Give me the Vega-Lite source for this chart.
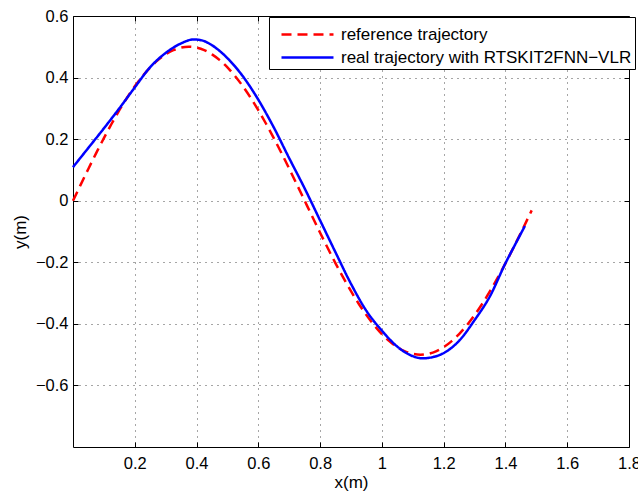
{
  "$schema": "https://vega.github.io/schema/vega-lite/v6.json",
  "width": 556,
  "height": 431,
  "autosize": {"type": "none"},
  "padding": {"left": 73, "top": 16, "right": 9, "bottom": 46},
  "background": "white",
  "config": {
    "font": "Liberation Sans",
    "view": {"stroke": "black", "strokeWidth": 1},
    "axis": {
      "labelFont": "Liberation Sans",
      "labelFontSize": 16.5,
      "labelColor": "black",
      "titleFont": "Liberation Sans",
      "titleFontSize": 17,
      "titleFontWeight": "normal",
      "titleColor": "black",
      "domain": false,
      "tickColor": "black",
      "tickSize": -5,
      "tickWidth": 1,
      "gridColor": "black",
      "gridDash": [1, 5],
      "gridOpacity": 0.7,
      "gridWidth": 1
    }
  },
  "data": {
    "values": [
      {"series": "reference trajectory", "x": 0, "y": 0},
      {"series": "reference trajectory", "x": 0.025, "y": 0.0523},
      {"series": "reference trajectory", "x": 0.05, "y": 0.104},
      {"series": "reference trajectory", "x": 0.075, "y": 0.1545},
      {"series": "reference trajectory", "x": 0.1, "y": 0.2034},
      {"series": "reference trajectory", "x": 0.125, "y": 0.25},
      {"series": "reference trajectory", "x": 0.15, "y": 0.2939},
      {"series": "reference trajectory", "x": 0.175, "y": 0.3346},
      {"series": "reference trajectory", "x": 0.2, "y": 0.3716},
      {"series": "reference trajectory", "x": 0.225, "y": 0.4045},
      {"series": "reference trajectory", "x": 0.25, "y": 0.433},
      {"series": "reference trajectory", "x": 0.275, "y": 0.4568},
      {"series": "reference trajectory", "x": 0.3, "y": 0.4755},
      {"series": "reference trajectory", "x": 0.325, "y": 0.4891},
      {"series": "reference trajectory", "x": 0.35, "y": 0.4973},
      {"series": "reference trajectory", "x": 0.375, "y": 0.5},
      {"series": "reference trajectory", "x": 0.4, "y": 0.4973},
      {"series": "reference trajectory", "x": 0.425, "y": 0.4891},
      {"series": "reference trajectory", "x": 0.45, "y": 0.4755},
      {"series": "reference trajectory", "x": 0.475, "y": 0.4568},
      {"series": "reference trajectory", "x": 0.5, "y": 0.433},
      {"series": "reference trajectory", "x": 0.525, "y": 0.4045},
      {"series": "reference trajectory", "x": 0.55, "y": 0.3716},
      {"series": "reference trajectory", "x": 0.575, "y": 0.3346},
      {"series": "reference trajectory", "x": 0.6, "y": 0.2939},
      {"series": "reference trajectory", "x": 0.625, "y": 0.25},
      {"series": "reference trajectory", "x": 0.65, "y": 0.2034},
      {"series": "reference trajectory", "x": 0.675, "y": 0.1545},
      {"series": "reference trajectory", "x": 0.7, "y": 0.104},
      {"series": "reference trajectory", "x": 0.725, "y": 0.0523},
      {"series": "reference trajectory", "x": 0.75, "y": 0},
      {"series": "reference trajectory", "x": 0.775, "y": -0.0523},
      {"series": "reference trajectory", "x": 0.8, "y": -0.104},
      {"series": "reference trajectory", "x": 0.825, "y": -0.1545},
      {"series": "reference trajectory", "x": 0.85, "y": -0.2034},
      {"series": "reference trajectory", "x": 0.875, "y": -0.25},
      {"series": "reference trajectory", "x": 0.9, "y": -0.2939},
      {"series": "reference trajectory", "x": 0.925, "y": -0.3346},
      {"series": "reference trajectory", "x": 0.95, "y": -0.3716},
      {"series": "reference trajectory", "x": 0.975, "y": -0.4045},
      {"series": "reference trajectory", "x": 1.0, "y": -0.433},
      {"series": "reference trajectory", "x": 1.025, "y": -0.4568},
      {"series": "reference trajectory", "x": 1.05, "y": -0.4755},
      {"series": "reference trajectory", "x": 1.075, "y": -0.4891},
      {"series": "reference trajectory", "x": 1.1, "y": -0.4973},
      {"series": "reference trajectory", "x": 1.125, "y": -0.5},
      {"series": "reference trajectory", "x": 1.15, "y": -0.4973},
      {"series": "reference trajectory", "x": 1.175, "y": -0.4891},
      {"series": "reference trajectory", "x": 1.2, "y": -0.4755},
      {"series": "reference trajectory", "x": 1.225, "y": -0.4568},
      {"series": "reference trajectory", "x": 1.25, "y": -0.433},
      {"series": "reference trajectory", "x": 1.275, "y": -0.4045},
      {"series": "reference trajectory", "x": 1.3, "y": -0.3716},
      {"series": "reference trajectory", "x": 1.325, "y": -0.3346},
      {"series": "reference trajectory", "x": 1.35, "y": -0.2939},
      {"series": "reference trajectory", "x": 1.375, "y": -0.25},
      {"series": "reference trajectory", "x": 1.4, "y": -0.2034},
      {"series": "reference trajectory", "x": 1.425, "y": -0.1545},
      {"series": "reference trajectory", "x": 1.45, "y": -0.104},
      {"series": "reference trajectory", "x": 1.475, "y": -0.0523},
      {"series": "reference trajectory", "x": 1.485, "y": -0.0314},
      {"series": "real trajectory with RTSKIT2FNN−VLR", "x": 0, "y": 0.109},
      {"series": "real trajectory with RTSKIT2FNN−VLR", "x": 0.05, "y": 0.172},
      {"series": "real trajectory with RTSKIT2FNN−VLR", "x": 0.1, "y": 0.235},
      {"series": "real trajectory with RTSKIT2FNN−VLR", "x": 0.15, "y": 0.3},
      {"series": "real trajectory with RTSKIT2FNN−VLR", "x": 0.2, "y": 0.368},
      {"series": "real trajectory with RTSKIT2FNN−VLR", "x": 0.25, "y": 0.434},
      {"series": "real trajectory with RTSKIT2FNN−VLR", "x": 0.3, "y": 0.48},
      {"series": "real trajectory with RTSKIT2FNN−VLR", "x": 0.35, "y": 0.511},
      {"series": "real trajectory with RTSKIT2FNN−VLR", "x": 0.39, "y": 0.524},
      {"series": "real trajectory with RTSKIT2FNN−VLR", "x": 0.42, "y": 0.52},
      {"series": "real trajectory with RTSKIT2FNN−VLR", "x": 0.45, "y": 0.505},
      {"series": "real trajectory with RTSKIT2FNN−VLR", "x": 0.48, "y": 0.482},
      {"series": "real trajectory with RTSKIT2FNN−VLR", "x": 0.5, "y": 0.463},
      {"series": "real trajectory with RTSKIT2FNN−VLR", "x": 0.55, "y": 0.404},
      {"series": "real trajectory with RTSKIT2FNN−VLR", "x": 0.6, "y": 0.328},
      {"series": "real trajectory with RTSKIT2FNN−VLR", "x": 0.65, "y": 0.238},
      {"series": "real trajectory with RTSKIT2FNN−VLR", "x": 0.7, "y": 0.138},
      {"series": "real trajectory with RTSKIT2FNN−VLR", "x": 0.75, "y": 0.04},
      {"series": "real trajectory with RTSKIT2FNN−VLR", "x": 0.8, "y": -0.064},
      {"series": "real trajectory with RTSKIT2FNN−VLR", "x": 0.85, "y": -0.168},
      {"series": "real trajectory with RTSKIT2FNN−VLR", "x": 0.9, "y": -0.27},
      {"series": "real trajectory with RTSKIT2FNN−VLR", "x": 0.95, "y": -0.358},
      {"series": "real trajectory with RTSKIT2FNN−VLR", "x": 1.0, "y": -0.422},
      {"series": "real trajectory with RTSKIT2FNN−VLR", "x": 1.05, "y": -0.474},
      {"series": "real trajectory with RTSKIT2FNN−VLR", "x": 1.1, "y": -0.505},
      {"series": "real trajectory with RTSKIT2FNN−VLR", "x": 1.13, "y": -0.512},
      {"series": "real trajectory with RTSKIT2FNN−VLR", "x": 1.16, "y": -0.509},
      {"series": "real trajectory with RTSKIT2FNN−VLR", "x": 1.2, "y": -0.495},
      {"series": "real trajectory with RTSKIT2FNN−VLR", "x": 1.25, "y": -0.455},
      {"series": "real trajectory with RTSKIT2FNN−VLR", "x": 1.3, "y": -0.388},
      {"series": "real trajectory with RTSKIT2FNN−VLR", "x": 1.35, "y": -0.31},
      {"series": "real trajectory with RTSKIT2FNN−VLR", "x": 1.4, "y": -0.203},
      {"series": "real trajectory with RTSKIT2FNN−VLR", "x": 1.43, "y": -0.145},
      {"series": "real trajectory with RTSKIT2FNN−VLR", "x": 1.463, "y": -0.082}
    ]
  },
  "encoding": {
    "color": {
      "field": "series",
      "type": "nominal",
      "scale": {
        "domain": ["reference trajectory", "real trajectory with RTSKIT2FNN−VLR"],
        "range": ["#FF0000", "#0000FF"]
      },
      "legend": {
        "orient": "none",
        "legendX": 196,
        "legendY": 1,
        "title": null,
        "symbolType": "M-0.385,0H3.615",
        "symbolSize": 676,
        "symbolStrokeWidth": 2.5,
        "labelFont": "Liberation Sans",
        "labelFontSize": 17,
        "labelColor": "black",
        "labelOffset": 40,
        "labelLimit": 400,
        "rowPadding": -2,
        "padding": 3,
        "strokeColor": "black",
        "fillColor": "white",
        "cornerRadius": 0
      }
    },
    "strokeDash": {
      "field": "series",
      "type": "nominal",
      "scale": {
        "domain": ["reference trajectory", "real trajectory with RTSKIT2FNN−VLR"],
        "range": [[10, 6], [1, 0]]
      },
      "legend": {
        "orient": "none",
        "legendX": 196,
        "legendY": 1,
        "title": null,
        "symbolType": "M-0.385,0H3.615",
        "symbolSize": 676,
        "symbolStrokeWidth": 2.5,
        "labelFont": "Liberation Sans",
        "labelFontSize": 17,
        "labelColor": "black",
        "labelOffset": 40,
        "labelLimit": 400,
        "rowPadding": -2,
        "padding": 3,
        "strokeColor": "black",
        "fillColor": "white",
        "cornerRadius": 0
      }
    }
  },
  "layer": [
    {
      "transform": [{"filter": "datum.series == 'reference trajectory'"}],
      "mark": {"type": "line", "strokeWidth": 2.5, "interpolate": "monotone"},
      "encoding": {
        "x": {
          "field": "x",
          "type": "quantitative",
          "scale": {"domain": [0, 1.8], "nice": false, "zero": false},
          "axis": {
            "orient": "bottom",
            "values": [0.2, 0.4, 0.6, 0.8, 1, 1.2, 1.4, 1.6, 1.8],
            "format": "~g",
            "labelPadding": 13,
            "title": "x(m)",
            "titlePadding": 3,
            "labelFlush": false,
            "labelOverlap": false
          }
        },
        "y": {
          "field": "y",
          "type": "quantitative",
          "scale": {"domain": [-0.8, 0.6], "nice": false, "zero": false},
          "axis": {
            "orient": "left",
            "values": [-0.6, -0.4, -0.2, 0, 0.2, 0.4, 0.6],
            "format": "~g",
            "labelPadding": 10,
            "title": "y(m)",
            "titlePadding": 6,
            "labelFlush": false,
            "labelOverlap": false
          }
        }
      }
    },
    {
      "transform": [{"filter": "datum.series != 'reference trajectory'"}],
      "mark": {"type": "line", "strokeWidth": 2.5, "interpolate": "monotone"},
      "encoding": {
        "x": {
          "field": "x",
          "type": "quantitative",
          "axis": {
            "orient": "top",
            "values": [0.2, 0.4, 0.6, 0.8, 1, 1.2, 1.4, 1.6],
            "labels": false,
            "grid": false,
            "title": null
          }
        },
        "y": {
          "field": "y",
          "type": "quantitative",
          "axis": {
            "orient": "right",
            "values": [-0.6, -0.4, -0.2, 0, 0.2, 0.4],
            "labels": false,
            "grid": false,
            "title": null
          }
        }
      }
    }
  ],
  "resolve": {"axis": {"x": "independent", "y": "independent"}}
}
